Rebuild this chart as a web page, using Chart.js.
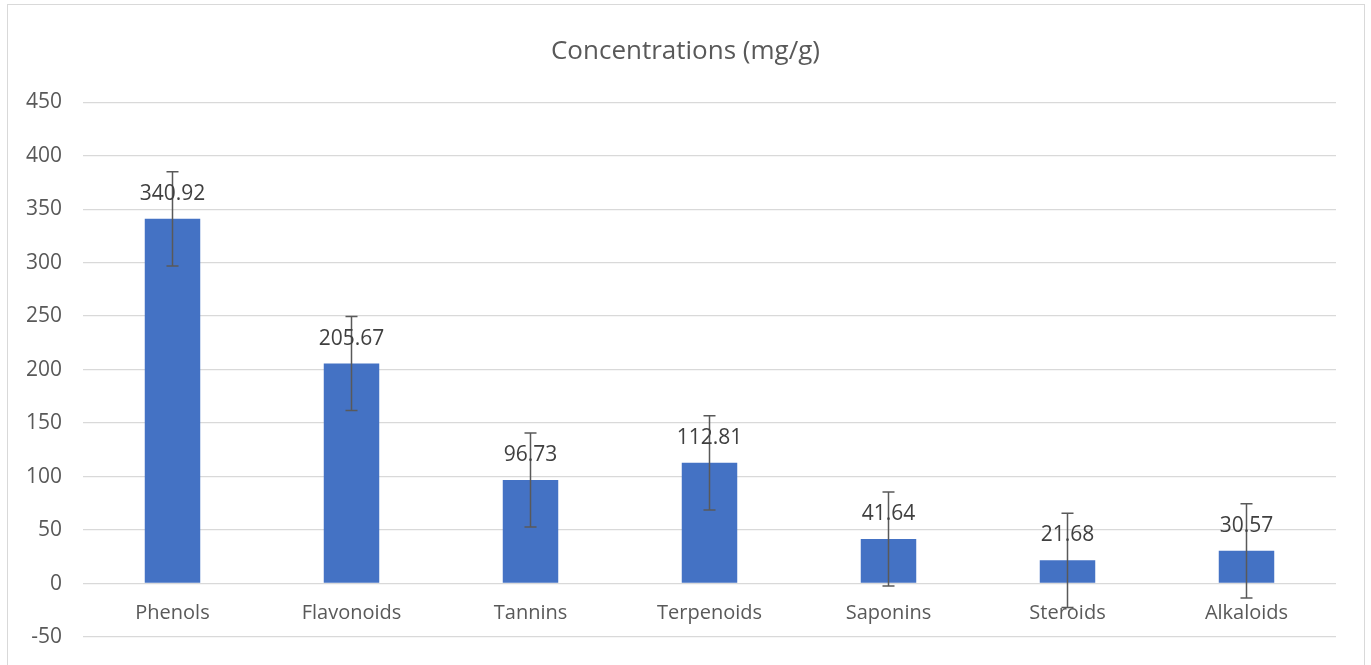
<!DOCTYPE html>
<html>
<head>
<meta charset="utf-8">
<script src="https://cdn.jsdelivr.net/npm/chart.js@4.4.1/dist/chart.umd.min.js"></script>
<style>
  html, body { margin: 0; padding: 0; background: #fff; overflow: hidden; }
  .frame { position: absolute; left: 7px; top: 4px; width: 1356px; height: 700px; border: 1px solid #d9d9d9; }
  .wrap { position: absolute; left: 0; top: 0; width: 1371px; height: 665px; }
</style>
</head>
<body>
<div class="frame"></div>
<div class="wrap"><canvas id="chart" width="1371" height="665"></canvas></div>
<script>
// data
const categories = ['Phenols', 'Flavonoids', 'Tannins', 'Terpenoids', 'Saponins', 'Steroids', 'Alkaloids'];
const concentrations = [340.92, 205.67, 96.73, 112.81, 41.64, 21.68, 30.57];
const errors = [44, 44, 44, 44, 44, 44, 44];
const yTicks = [-50, 0, 50, 100, 150, 200, 250, 300, 350, 400, 450];

const textColor = '#595959';
const fontFamily = "'Open Sans', 'Noto Sans', sans-serif";

// error bars, value labels and category labels drawn from the scales
const extras = {
    id: 'extras',
    afterDatasetsDraw(chart) {
        const ctx = chart.ctx;
        const x = chart.scales.x;
        const y = chart.scales.y;
        ctx.save();
        // error bars
        ctx.strokeStyle = '#595959';
        ctx.lineWidth = 1.5;
        concentrations.forEach((v, i) => {
            const px = x.getPixelForValue(i);
            const top = y.getPixelForValue(v + errors[i]);
            const bot = y.getPixelForValue(v - errors[i]);
            ctx.beginPath();
            ctx.moveTo(px, top); ctx.lineTo(px, bot);
            ctx.moveTo(px - 6, top); ctx.lineTo(px + 6, top);
            ctx.moveTo(px - 6, bot); ctx.lineTo(px + 6, bot);
            ctx.stroke();
        });
        // value labels
        ctx.fillStyle = '#404040';
        ctx.font = '21px ' + fontFamily;
        ctx.textAlign = 'center';
        ctx.textBaseline = 'middle';
        concentrations.forEach((v, i) => {
            ctx.fillText(v.toFixed(2), x.getPixelForValue(i), y.getPixelForValue(v) - 25);
        });
        // category labels next to the zero line
        ctx.fillStyle = textColor;
        ctx.font = '20px ' + fontFamily;
        categories.forEach((c, i) => {
            ctx.fillText(c, x.getPixelForValue(i), y.getPixelForValue(0) + 30);
        });
        ctx.restore();
    }
};

const chart = document.querySelector('#chart').getContext('2d');

new Chart(chart, {
    type: 'bar',
    data: {
        labels: categories,
        datasets: [
            {
                label: 'Concentrations (mg/g)',
                data: concentrations,
                backgroundColor: '#4472c4',
                barPercentage: 0.31,
                categoryPercentage: 1
            }
        ]
    },
    options: {
        responsive: false,
        animation: false,
        layout: { padding: { left: 0, right: 0, top: 0, bottom: 28 } },
        plugins: {
            legend: { display: false },
            tooltip: { enabled: false },
            title: {
                display: true,
                text: 'Concentrations (mg/g)',
                color: textColor,
                font: { family: fontFamily, size: 26, weight: 'normal' },
                padding: { top: 36, bottom: 35 }
            }
        },
        scales: {
            x: { display: false },
            y: {
                min: -50,
                max: 450,
                afterBuildTicks: (scale) => { scale.ticks = yTicks.map(v => ({ value: v })); },
                afterFit: (scale) => {
                    scale.width = 83;
                    scale.paddingTop = 0;
                    scale.paddingBottom = 0;
                },
                border: { display: false },
                grid: { color: '#d9d9d9', lineWidth: 1.3, drawTicks: false },
                ticks: { color: textColor, padding: 21, font: { family: fontFamily, size: 21 } }
            },
            // empty right gutter so the title stays centred on the frame
            gutter: {
                position: 'right',
                min: -50,
                max: 450,
                afterFit: (scale) => {
                    scale.width = 35;
                    scale.paddingTop = 0;
                    scale.paddingBottom = 0;
                },
                border: { display: false },
                grid: { display: false },
                ticks: { display: false }
            }
        }
    },
    plugins: [extras]
});
</script>
</body>
</html>
